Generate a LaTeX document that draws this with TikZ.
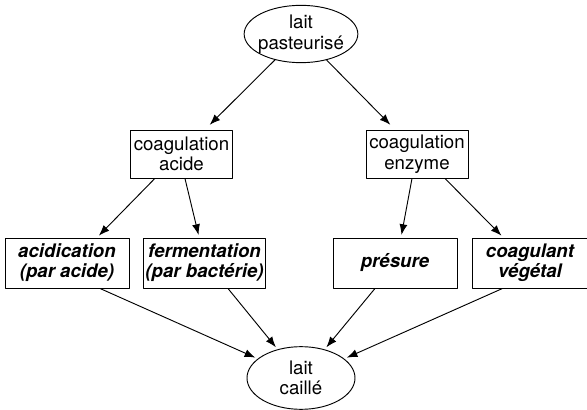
\documentclass[tikz,border=0pt]{standalone}
\usepackage{fontspec}
\setmainfont{TeX Gyre Heros}
\usetikzlibrary{shapes,arrows,arrows.meta}

\begin{document}
\begin{tikzpicture}
    [line cap=round,line join=round,x=0.75pt,y=-0.75pt,
     every node/.style={font=\fontsize{14}{15.5}\selectfont, align=center},
     oval/.style={draw, ellipse, line width=0.7pt, inner sep=0pt, minimum width=81pt},
     etape/.style={draw, rectangle, line width=0.7pt, inner sep=1pt, minimum height=36pt},
     variante/.style={etape, minimum height=37.5pt, font=\fontsize{14}{15}\selectfont\bfseries\itshape},
     fleche/.style={-{Latex[length=8pt,width=6pt]}, line width=0.7pt, shorten >=2pt}]
\useasboundingbox (0,0) rectangle (587,410);
%the milk at both ends
\node[oval, inner xsep=-2pt, minimum height=43pt] (pasteur) at (301,34) {lait\\pasteurisé};
\node[oval, minimum height=47pt] (caille) at (301,378) {lait\\caillé};
%the two kinds of coagulation
\node[etape, minimum width=77pt] (cacide) at (181.5,154) {coagulation\\acide};
\node[etape, minimum width=76.5pt] (cenzyme) at (417,154) {coagulation\\enzyme};
%the four ways
\node[variante, minimum width=93pt] (acidif) at (67,263) {acidication\\(par acide)};
\node[variante, minimum width=91pt] (ferment) at (204.5,263) {fermentation\\(par bactérie)};
\node[variante, minimum width=93pt] (presure) at (395,263) {présure};
\node[variante, minimum width=86pt] (vegetal) at (530,263) {coagulant\\végétal};

%arrows
\draw[fleche, shorten >=5pt] (pasteur) -- ([xshift=17.6pt]cacide.north);
\draw[fleche, shorten >=5pt] (pasteur) -- ([xshift=-16.5pt]cenzyme.north);
\draw[fleche] ([xshift=-20pt]cacide.south) -- ([xshift=22.5pt]acidif.north);
\draw[fleche] ([xshift=2.6pt]cacide.south) -- ([xshift=-4pt]ferment.north);
\draw[fleche] ([xshift=-3.75pt]cenzyme.south) -- ([xshift=4.5pt]presure.north);
\draw[fleche] ([xshift=21pt]cenzyme.south) -- ([xshift=-20pt]vegetal.north);
\draw[fleche] ([xshift=24.75pt]acidif.south) -- (caille);
\draw[fleche] ([xshift=17.6pt]ferment.south) -- (caille);
\draw[fleche] ([xshift=-15pt]presure.south) -- (caille);
\draw[fleche] ([xshift=-20.6pt]vegetal.south) -- (caille);
\end{tikzpicture}
\end{document}
